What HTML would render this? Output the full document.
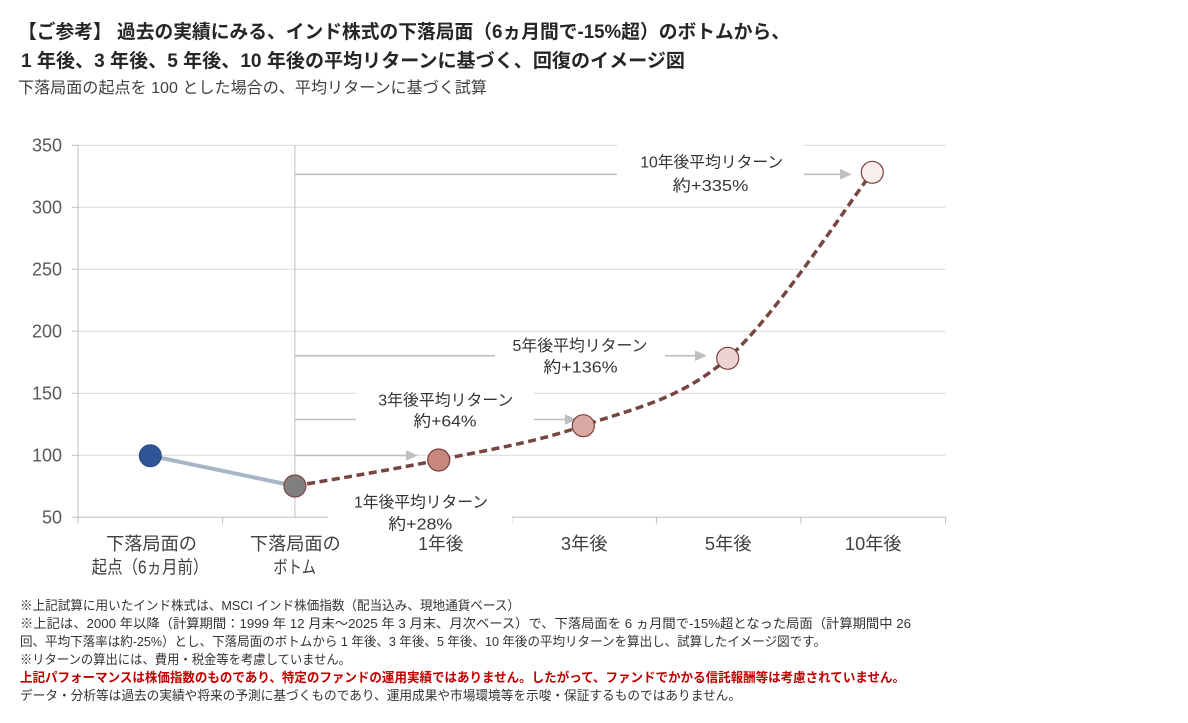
<!DOCTYPE html>
<html lang="ja">
<head>
<meta charset="utf-8">
<style>
  html, body { margin:0; padding:0; background:#ffffff; }
  body { width:1188px; height:723px; overflow:hidden; }
  svg { display:block; }
  text { font-family: "Liberation Sans", "Noto Sans CJK JP", sans-serif; }
</style>
</head>
<body>
<svg width="1188" height="723" viewBox="0 0 1188 723" xmlns="http://www.w3.org/2000/svg">
  <rect x="0" y="0" width="1188" height="723" fill="#ffffff"/>

  <!-- Titles -->
  <text x="18" y="38" font-size="19" font-weight="bold" fill="#262626" textLength="772" lengthAdjust="spacingAndGlyphs">【ご参考】 過去の実績にみる、インド株式の下落局面（6ヵ月間で-15%超）のボトムから、</text>
  <text x="21" y="67" font-size="19" font-weight="bold" fill="#262626" textLength="664" lengthAdjust="spacingAndGlyphs">1 年後、3 年後、5 年後、10 年後の平均リターンに基づく、回復のイメージ図</text>
  <text x="18" y="93" font-size="16" fill="#404040" textLength="469" lengthAdjust="spacingAndGlyphs">下落局面の起点を 100 とした場合の、平均リターンに基づく試算</text>

  <!-- Gridlines -->
  <g stroke="#d9d9d9" stroke-width="1">
    <line x1="78" y1="145.3" x2="945.5" y2="145.3"/>
    <line x1="78" y1="207.3" x2="945.5" y2="207.3"/>
    <line x1="78" y1="269.3" x2="945.5" y2="269.3"/>
    <line x1="78" y1="331.3" x2="945.5" y2="331.3"/>
    <line x1="78" y1="393.3" x2="945.5" y2="393.3"/>
    <line x1="78" y1="455.3" x2="945.5" y2="455.3"/>
  </g>

  <!-- Axes -->
  <g stroke="#bfbfbf" stroke-width="1">
    <line x1="78" y1="145" x2="78" y2="517.5"/>
    <line x1="72" y1="145.3" x2="78" y2="145.3"/>
    <line x1="72" y1="207.3" x2="78" y2="207.3"/>
    <line x1="72" y1="269.3" x2="78" y2="269.3"/>
    <line x1="72" y1="331.3" x2="78" y2="331.3"/>
    <line x1="72" y1="393.3" x2="78" y2="393.3"/>
    <line x1="72" y1="455.3" x2="78" y2="455.3"/>
    <line x1="72" y1="517.3" x2="78" y2="517.3"/>
    <line x1="78" y1="517.3" x2="945.5" y2="517.3"/>
    <line x1="78" y1="517.3" x2="78" y2="523.5"/>
    <line x1="222.6" y1="517.3" x2="222.6" y2="523.5"/>
    <line x1="367.2" y1="517.3" x2="367.2" y2="523.5"/>
    <line x1="511.8" y1="517.3" x2="511.8" y2="523.5"/>
    <line x1="656.4" y1="517.3" x2="656.4" y2="523.5"/>
    <line x1="800.9" y1="517.3" x2="800.9" y2="523.5"/>
    <line x1="945.5" y1="517.3" x2="945.5" y2="523.5"/>
    <!-- vertical line at bottom -->
    <line x1="294.9" y1="145" x2="294.9" y2="517.3"/>
  </g>

  <!-- Arrows -->
  <g stroke="#bfbfbf" stroke-width="1.6">
    <line x1="295" y1="174.3" x2="842" y2="174.3"/>
    <line x1="295" y1="355.7" x2="697" y2="355.7"/>
    <line x1="295" y1="419.5" x2="567" y2="419.5"/>
    <line x1="295" y1="455.5" x2="408" y2="455.5"/>
  </g>
  <g fill="#bfbfbf">
    <polygon points="840,169 852,174.3 840,179.6"/>
    <polygon points="695,350.4 707,355.7 695,361"/>
    <polygon points="565,414.2 577,419.5 565,424.8"/>
    <polygon points="406,450.2 418,455.5 406,460.8"/>
  </g>

  <!-- White label boxes -->
  <g fill="#ffffff">
    <rect x="617" y="138" width="187" height="62"/>
    <rect x="495" y="335" width="170" height="50"/>
    <rect x="356" y="386" width="178" height="46"/>
    <rect x="328" y="488" width="184" height="45"/>
  </g>

  <!-- Label texts -->
  <g font-size="16" fill="#333333" text-anchor="middle">
    <text x="711.7" y="167.7" textLength="143" lengthAdjust="spacingAndGlyphs">10年後平均リターン</text>
    <text x="710.5" y="191" textLength="75.7" lengthAdjust="spacingAndGlyphs">約+335%</text>
    <text x="580" y="351" textLength="135" lengthAdjust="spacingAndGlyphs">5年後平均リターン</text>
    <text x="580.5" y="372.7" textLength="74.3" lengthAdjust="spacingAndGlyphs">約+136%</text>
    <text x="445.8" y="405.3" textLength="135" lengthAdjust="spacingAndGlyphs">3年後平均リターン</text>
    <text x="445" y="426.7" textLength="63" lengthAdjust="spacingAndGlyphs">約+64%</text>
    <text x="421" y="507.7" textLength="134" lengthAdjust="spacingAndGlyphs">1年後平均リターン</text>
    <text x="420.3" y="529.3" textLength="64" lengthAdjust="spacingAndGlyphs">約+28%</text>
  </g>

  <!-- Y axis labels -->
  <g font-size="18" fill="#595959" text-anchor="end">
    <text x="62" y="151.7">350</text>
    <text x="62" y="213.7">300</text>
    <text x="62" y="275.7">250</text>
    <text x="62" y="337.7">200</text>
    <text x="62" y="399.7">150</text>
    <text x="62" y="461.7">100</text>
    <text x="62" y="523.7">50</text>
  </g>

  <!-- X axis labels -->
  <g font-size="18" fill="#404040" text-anchor="middle">
    <text x="151.5" y="550" textLength="91" lengthAdjust="spacingAndGlyphs">下落局面の</text>
    <text x="150" y="573.5" textLength="116.7" lengthAdjust="spacingAndGlyphs">起点（6ヵ月前）</text>
    <text x="295.3" y="550" textLength="90.7" lengthAdjust="spacingAndGlyphs">下落局面の</text>
    <text x="294.7" y="573.5" textLength="42.7" lengthAdjust="spacingAndGlyphs">ボトム</text>
    <text x="440.8" y="550" textLength="45" lengthAdjust="spacingAndGlyphs">1年後</text>
    <text x="584.3" y="550" textLength="46.7" lengthAdjust="spacingAndGlyphs">3年後</text>
    <text x="728.3" y="550" textLength="46.7" lengthAdjust="spacingAndGlyphs">5年後</text>
    <text x="873.3" y="550" textLength="56.7" lengthAdjust="spacingAndGlyphs">10年後</text>
  </g>

  <!-- Series -->
  <line x1="150.3" y1="455.7" x2="294.9" y2="486" stroke="#a7b5c8" stroke-width="4" stroke-linecap="round"/>
  <path d="M294.9,486 C318.9,481.7 390.6,470.1 438.7,460 C486.8,449.95 535.1,442.65 583.3,425.7 C631.5,408.75 679.5,400.5 727.7,358.3 C775.9,316.07 848.2,203.3 872.3,172.3"
        fill="none" stroke="#774643" stroke-width="3.5" stroke-dasharray="8 4.5"/>

  <!-- Markers -->
  <circle cx="150.3" cy="455.7" r="11" fill="#2f5597" stroke="#2a4a85" stroke-width="1"/>
  <circle cx="294.9" cy="486" r="11" fill="#7f7f7f" stroke="#7a4a46" stroke-width="1.2"/>
  <circle cx="438.7" cy="460" r="11" fill="#c8877d" stroke="#7a3f3b" stroke-width="1.2"/>
  <circle cx="583.3" cy="425.7" r="11" fill="#d9aaa3" stroke="#7a3f3b" stroke-width="1.2"/>
  <circle cx="727.7" cy="358.3" r="11" fill="#ecd5d1" stroke="#7a3f3b" stroke-width="1.2"/>
  <circle cx="872.3" cy="172.3" r="11" fill="#f9eeec" stroke="#7a3f3b" stroke-width="1.2"/>

  <!-- Footnotes -->
  <g font-size="13" fill="#333333">
    <text x="20" y="610" textLength="500" lengthAdjust="spacingAndGlyphs">※上記試算に用いたインド株式は、MSCI インド株価指数（配当込み、現地通貨ベース）</text>
    <text x="20" y="628" textLength="891" lengthAdjust="spacingAndGlyphs">※上記は、2000 年以降（計算期間：1999 年 12 月末～2025 年 3 月末、月次ベース）で、下落局面を 6 ヵ月間で-15%超となった局面（計算期間中 26</text>
    <text x="20" y="646" textLength="806" lengthAdjust="spacingAndGlyphs">回、平均下落率は約-25%）とし、下落局面のボトムから 1 年後、3 年後、5 年後、10 年後の平均リターンを算出し、試算したイメージ図です。</text>
    <text x="20" y="664" textLength="331" lengthAdjust="spacingAndGlyphs">※リターンの算出には、費用・税金等を考慮していません。</text>
    <text x="20" y="682" font-weight="bold" fill="#c00000" textLength="885" lengthAdjust="spacingAndGlyphs">上記パフォーマンスは株価指数のものであり、特定のファンドの運用実績ではありません。したがって、ファンドでかかる信託報酬等は考慮されていません。</text>
    <text x="20" y="700" textLength="721" lengthAdjust="spacingAndGlyphs">データ・分析等は過去の実績や将来の予測に基づくものであり、運用成果や市場環境等を示唆・保証するものではありません。</text>
  </g>
</svg>
</body>
</html>
